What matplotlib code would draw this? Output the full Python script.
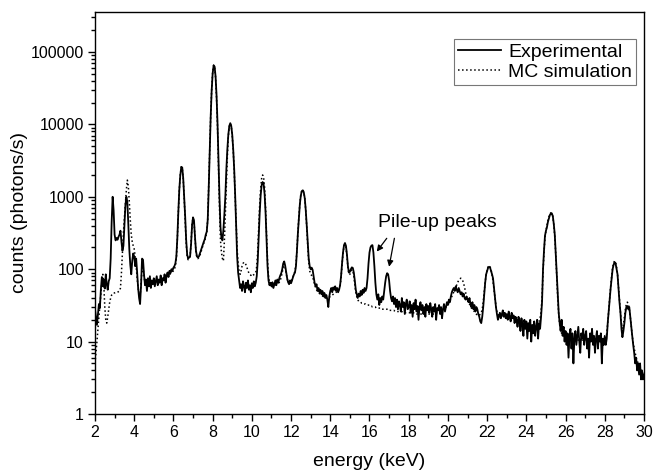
import numpy as np
import matplotlib
matplotlib.use("Agg")
import matplotlib.pyplot as plt
from matplotlib.ticker import LogLocator, MultipleLocator, FixedLocator

plt.rcParams['font.family'] = ['Liberation Sans', 'DejaVu Sans']

# detector channels, 50 eV wide, 2 - 30 keV
energy = np.round(np.arange(2.0, 30.0001, 0.05), 2)

# measured spectrum (photons/s), one row per keV
exp_counts = [
    28, 22, 17, 24, 33, 29, 52, 78, 58, 72, 54, 85, 62, 52, 68, 75, 140, 450, 1000, 650,              # 2
    300, 250, 270, 255, 280, 300, 340, 240, 180, 210, 400, 750, 1000, 850, 420, 190, 115, 85, 130, 165,  # 3
    150, 110, 140, 90, 55, 40, 33, 60, 140, 135, 85, 60, 72, 50, 75, 58, 80, 55, 70, 62,                # 4
    75, 58, 68, 80, 60, 72, 65, 82, 60, 75, 70, 85, 65, 80, 90, 78, 95, 88, 100, 95,                    # 5
    105, 110, 120, 150, 270, 610, 1250, 1970, 2570, 2540, 1800, 990, 530, 255, 160, 140, 145, 150, 220, 400,  # 6
    520, 470, 280, 180, 150, 145, 150, 165, 180, 200, 220, 240, 260, 300, 330, 480, 1300, 4100, 12600, 29000,  # 7
    50000, 65000, 63000, 46000, 25000, 10200, 3150, 970, 380, 270, 250, 350, 580, 1040, 2400, 4500, 7200, 9500, 10400, 9500,  # 8
    7200, 4500, 2400, 1040, 400, 150, 90, 70, 55, 62, 50, 68, 58, 48, 65, 55, 70, 52, 60, 48,          # 9
    64, 55, 68, 58, 65, 80, 130, 280, 600, 1050, 1450, 1600, 1500, 1100, 600, 250, 110, 70, 60, 65,   # 10
    58, 66, 55, 62, 70, 60, 72, 65, 75, 82, 88, 100, 120, 128, 112, 92, 75, 66, 62, 70,               # 11
    64, 70, 78, 85, 90, 110, 180, 320, 520, 800, 1050, 1200, 1230, 1150, 950, 650, 400, 230, 140, 110,  # 12
    100, 105, 98, 80, 65, 58, 62, 50, 55, 48, 52, 45, 50, 42, 47, 40, 44, 38, 30, 42,                 # 13
    50, 55, 48, 56, 52, 58, 50, 55, 48, 52, 60, 80, 120, 170, 215, 230, 210, 160, 110, 90,            # 14
    92, 100, 106, 104, 90, 70, 52, 45, 40, 46, 42, 50, 44, 52, 47, 55, 50, 55, 75, 120,               # 15
    170, 200, 212, 215, 170, 110, 65, 45, 38, 45, 32, 40, 35, 42, 38, 50, 65, 80, 88, 85,             # 16
    70, 50, 40, 36, 42, 33, 40, 30, 38, 28, 36, 32, 26, 40, 30, 35, 24, 33, 38, 28,                   # 17
    30, 36, 25, 32, 22, 34, 28, 38, 26, 31, 20, 30, 35, 27, 32, 24, 30, 22, 33, 27,                   # 18
    31, 25, 34, 28, 22, 30, 26, 33, 20, 29, 27, 32, 24, 30, 21, 28, 33, 26, 30, 35,                   # 19
    32, 38, 35, 42, 48, 52, 55, 50, 58, 52, 48, 55, 50, 45, 48, 42, 46, 40, 38, 42,                   # 20
    38, 35, 40, 33, 30, 35, 28, 32, 26, 30, 28, 24, 22, 19, 18, 22, 30, 45, 65, 85,                   # 21
    95, 105, 108, 105, 95, 85, 75, 55, 40, 30, 24, 20, 22, 25, 21, 24, 27, 22, 25, 21,                # 22
    24, 20, 26, 22, 19, 25, 21, 23, 18, 22, 20, 16, 22, 19, 14, 21, 17, 12, 20, 15,                   # 23
    19, 11, 18, 14, 20, 10, 17, 13, 19, 12, 16, 20, 11, 18, 15, 22, 35, 100, 180, 290,                # 24
    340, 380, 450, 500, 560, 590, 590, 540, 420, 300, 160, 90, 45, 25, 18, 14, 20, 12, 16, 10,        # 25
    14, 9, 13, 6, 12, 15, 8, 13, 5, 11, 14, 9, 12, 16, 10, 7, 13, 11, 15, 9,                          # 26
    12, 14, 8, 11, 6, 13, 10, 15, 9, 12, 7, 11, 14, 8, 12, 10, 13, 5, 11, 9,                          # 27
    12, 9, 11, 18, 26, 37, 55, 75, 100, 115, 125, 120, 100, 85, 55, 35, 25, 15, 11.5, 14,             # 28
    18, 25, 30, 31, 28, 30, 22, 16, 12, 9, 7, 5, 6, 4, 5, 3.5, 5, 3, 4, 3,                            # 29
    3.5,                                                                                              # 30
]

# Monte Carlo simulated spectrum (photons/s)
mc_counts = [
    5, 7, 10, 15, 22, 32, 45, 65, 85, 60, 30, 20, 18, 22, 28, 35, 40, 44, 46, 47,                     # 2
    47, 48, 48, 48, 49, 50, 55, 90, 170, 320, 520, 800, 1250, 1700, 1400, 850, 480, 300, 240, 210,    # 3
    190, 150, 110, 75, 55, 45, 42, 65, 100, 105, 80, 65, 62, 60, 62, 63, 64, 64, 65, 66,              # 4
    67, 66, 69, 70, 68, 71, 72, 70, 74, 73, 75, 77, 76, 79, 80, 83, 84, 87, 88, 92,                   # 5
    95, 100, 110, 140, 260, 600, 1250, 2000, 2600, 2500, 1750, 950, 480, 230, 150, 135, 140, 150, 230, 420,  # 6
    510, 450, 270, 170, 145, 140, 145, 155, 170, 190, 210, 230, 250, 280, 320, 500, 1400, 4300, 13000, 30000,  # 7
    52000, 66000, 62000, 44000, 23000, 9000, 2600, 700, 250, 170, 140, 130, 250, 600, 1500, 3500, 6800, 9300, 10300, 9400,  # 8
    7000, 4400, 2300, 1000, 420, 190, 120, 95, 85, 95, 110, 120, 125, 122, 115, 105, 95, 88, 85, 82,  # 9
    85, 82, 84, 86, 90, 110, 180, 380, 780, 1300, 1800, 2000, 1850, 1350, 700, 300, 130, 80, 65, 60,  # 10
    58, 57, 58, 60, 60, 62, 63, 64, 66, 70, 78, 90, 105, 112, 105, 88, 74, 66, 64, 66,                # 11
    68, 72, 78, 85, 95, 115, 185, 330, 540, 820, 1080, 1230, 1250, 1160, 940, 640, 380, 210, 125, 95,  # 12
    85, 82, 78, 70, 62, 56, 52, 50, 48, 46, 45, 44, 43, 42, 42, 41, 41, 40, 40, 41,                   # 13
    42, 43, 44, 45, 46, 47, 48, 49, 50, 53, 58, 75, 115, 165, 205, 220, 200, 150, 105, 85,            # 14
    85, 92, 98, 95, 80, 62, 48, 42, 38, 36, 35, 35, 34, 34, 33, 33, 33, 32, 32, 32,                   # 15
    31, 31, 31, 30, 30, 30, 30, 29, 29, 29, 29, 29, 28, 28, 28, 28, 28, 28, 28, 27,                   # 16
    27, 27, 27, 27, 27, 27, 26, 26, 26, 26, 26, 26, 26, 26, 25, 25, 25, 25, 25, 25,                   # 17
    25, 25, 25, 25, 25, 25, 25, 24, 24, 24, 24, 24, 24, 24, 24, 24, 24, 24, 24, 24,                   # 18
    24, 24, 24, 24, 24, 24, 24, 25, 25, 25, 25, 26, 26, 27, 27, 28, 28, 29, 30, 31,                   # 19
    32, 34, 36, 39, 42, 45, 48, 52, 56, 61, 66, 70, 73, 75, 74, 70, 64, 56, 48, 42,                   # 20
    38, 35, 33, 31, 29, 28, 27, 26, 25, 24, 23, 23, 23, 24, 25, 28, 35, 48, 66, 85,                   # 21
    98, 108, 112, 108, 98, 84, 68, 52, 40, 31, 26, 24, 23, 23, 23, 23, 22, 22, 22, 22,                # 22
    22, 22, 22, 21, 21, 21, 21, 21, 20, 20, 20, 20, 20, 19, 19, 19, 19, 19, 18, 18,                   # 23
    18, 18, 18, 18, 17, 17, 17, 17, 17, 17, 17, 18, 18, 19, 21, 26, 40, 90, 170, 270,                 # 24
    340, 400, 470, 530, 580, 600, 590, 530, 410, 280, 160, 80, 40, 24, 17, 14, 13, 12.5, 12, 12,      # 25
    12, 12, 11.5, 11.5, 11.5, 11, 11, 11, 11, 11, 11, 11, 10.5, 10.5, 10.5, 10.5, 10.5, 10.5, 10.5, 10.5,  # 26
    10.5, 10.5, 10.5, 10.5, 10.5, 10.5, 10.5, 10.5, 10.5, 10.5, 10.5, 10.5, 10.5, 10.5, 10.5, 10.5, 10.5, 10.6, 10.7, 10.8,  # 27
    11, 11, 13, 18, 27, 40, 58, 80, 105, 122, 130, 125, 108, 85, 58, 38, 25, 18, 15, 17,              # 28
    22, 28, 33, 35, 33, 28, 22, 16, 12, 9.5, 8, 7, 6, 5.5, 5, 4.5, 4.2, 4, 3.8, 3.6,                  # 29
    3.5,                                                                                              # 30
]

x_ticks = [2, 4, 6, 8, 10, 12, 14, 16, 18, 20, 22, 24, 26, 28, 30]
y_ticks = [1, 10, 100, 1000, 10000, 100000]

fig = plt.figure(figsize=(6.56, 4.76), dpi=100)
ax = fig.add_axes([0.1448, 0.1303, 0.8369, 0.8445])

ax.plot(energy, exp_counts, color='black', lw=1.3, label='Experimental')
ax.plot(energy, mc_counts, color='black', lw=1.1, ls=':', label='MC simulation')

ax.set_yscale('log')
ax.set_xlim(2, 30)
ax.set_ylim(1, 3.57e5)

ax.xaxis.set_major_locator(FixedLocator(x_ticks))
ax.xaxis.set_minor_locator(MultipleLocator(1))
ax.yaxis.set_major_locator(FixedLocator(y_ticks))
ax.yaxis.set_minor_locator(LogLocator(base=10, subs=np.arange(2, 10)))
ax.set_yticklabels([str(v) for v in y_ticks])
ax.set_xticklabels([str(v) for v in x_ticks])

ax.tick_params(which='both', direction='out', top=False, right=False,
               labelsize=11.5, width=1.0, pad=3)
ax.tick_params(which='major', length=5)
ax.tick_params(which='minor', length=3)
for s in ax.spines.values():
    s.set_linewidth(1.0)

ax.set_xlabel('energy (keV)', fontsize=14, labelpad=9)
ax.set_ylabel('counts (photons/s)', fontsize=14, labelpad=2)

# pile-up annotation
ax.text(16.44, 447, 'Pile-up peaks', fontsize=14, ha='left', va='center')
ax.annotate('', xy=(16.37, 175), xytext=(16.88, 267),
            arrowprops=dict(arrowstyle='-|>', color='black', lw=0.9,
                            mutation_scale=9, shrinkA=0, shrinkB=0))
ax.annotate('', xy=(17.0, 108), xytext=(17.27, 267),
            arrowprops=dict(arrowstyle='-|>', color='black', lw=0.9,
                            mutation_scale=9, shrinkA=0, shrinkB=0))

leg = ax.legend(loc='upper right', bbox_to_anchor=(0.9854, 0.9328),
                borderaxespad=0, fontsize=14, handlelength=2.25,
                handletextpad=0.35, labelspacing=0.15, borderpad=0.2,
                fancybox=False, framealpha=1)
leg.get_frame().set_edgecolor('#777777')
leg.get_frame().set_linewidth(0.8)

fig.savefig('out.png', dpi=100)
